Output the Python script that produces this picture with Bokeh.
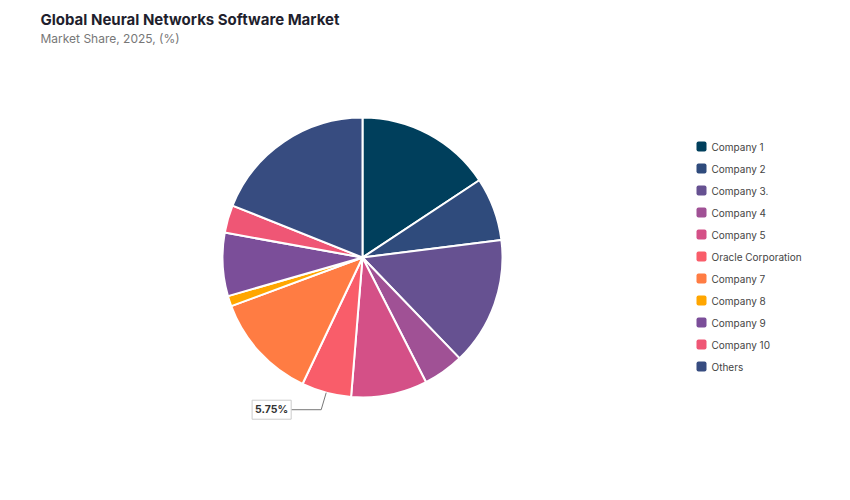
import numpy as np
from bokeh.plotting import figure
from bokeh.models import ColumnDataSource, Label
from bokeh.core.properties import value
from bokeh.embed import file_html
from bokeh.resources import INLINE

# market share data (%)
companies = ["Company 1", "Company 2", "Company 3.", "Company 4", "Company 5",
             "Oracle Corporation", "Company 7", "Company 8", "Company 9",
             "Company 10", "Others"]
shares = [15.7, 7.3, 14.8, 4.7, 8.8, 5.75, 12.3, 1.2, 7.3, 3.2, 18.95]
colors = ["#003f5c", "#2f4b7c", "#665191", "#a05195", "#d45087", "#f95d6a",
          "#ff7c43", "#ffa600", "#7b4e99", "#ef5675", "#374c80"]
labelled = "Oracle Corporation"

W, H = 834, 484
FONT = "Inter"


def px(x, y):
    """screen pixel (from top-left of the figure) -> data coords"""
    return x, H - y


p = figure(width=W, height=H, x_range=(0, W), y_range=(0, H),
           output_backend="svg", toolbar_location=None, min_border=0)
p.axis.visible = False
p.grid.visible = False
p.outline_line_color = None

# --- pie ---
cx, cy = px(362, 257)
r = 140
frac = np.array(shares) / sum(shares)
cum = np.concatenate([[0], np.cumsum(frac)]) * 2 * np.pi
src = ColumnDataSource(dict(
    start=np.pi / 2 - cum[:-1],
    end=np.pi / 2 - cum[1:],
    color=colors,
    name=companies,
))
p.wedge(x=cx, y=cy, radius=r, start_angle="start", end_angle="end",
        direction="clock", fill_color="color", line_color="white",
        line_width=2, source=src)

# --- data label with leader line ---
i = companies.index(labelled)
mid = np.pi / 2 - (cum[i] + cum[i + 1]) / 2
ax, ay = cx + r * np.cos(mid), cy + r * np.sin(mid)
bx, by = ax - 5, ay - 17
lx = bx - 30
p.line([ax, bx, lx], [ay, by, by], line_color="#777777", line_width=1)
p.add_layout(Label(x=lx, y=by, text=f"{shares[i]:.2f}%", text_align="right",
                   text_baseline="middle", text_font=FONT, text_font_size="10.5px",
                   text_font_style="bold", text_color="#333333",
                   background_fill_color="white", border_line_color="#cccccc",
                   padding=3))

# --- legend ---
lgx, lgy = px(701, 146)
step = 22
ys = [lgy - k * step for k in range(len(companies))]
p.rect(x=[lgx] * len(companies), y=ys, width=10, height=10,
       fill_color=colors, line_color=None, border_radius=2)
p.text(x=[lgx + 10] * len(companies), y=ys, text=companies,
       text_font=value(FONT), text_font_size="10px", text_color="#444444",
       text_baseline="middle")

# --- title / subtitle ---
tx, ty = px(40, 19)
p.add_layout(Label(x=tx, y=ty, text="Global Neural Networks Software Market",
                   text_font=FONT, text_font_size="15px", text_font_style="bold",
                   text_color="#1f1f2e", text_baseline="middle"))
sx, sy = px(40, 38)
p.add_layout(Label(x=sx, y=sy, text="Market Share, 2025, (%)",
                   text_font=FONT, text_font_size="12px", text_color="#777777",
                   text_baseline="middle"))

open("out.html", "w").write(file_html(p, INLINE))
